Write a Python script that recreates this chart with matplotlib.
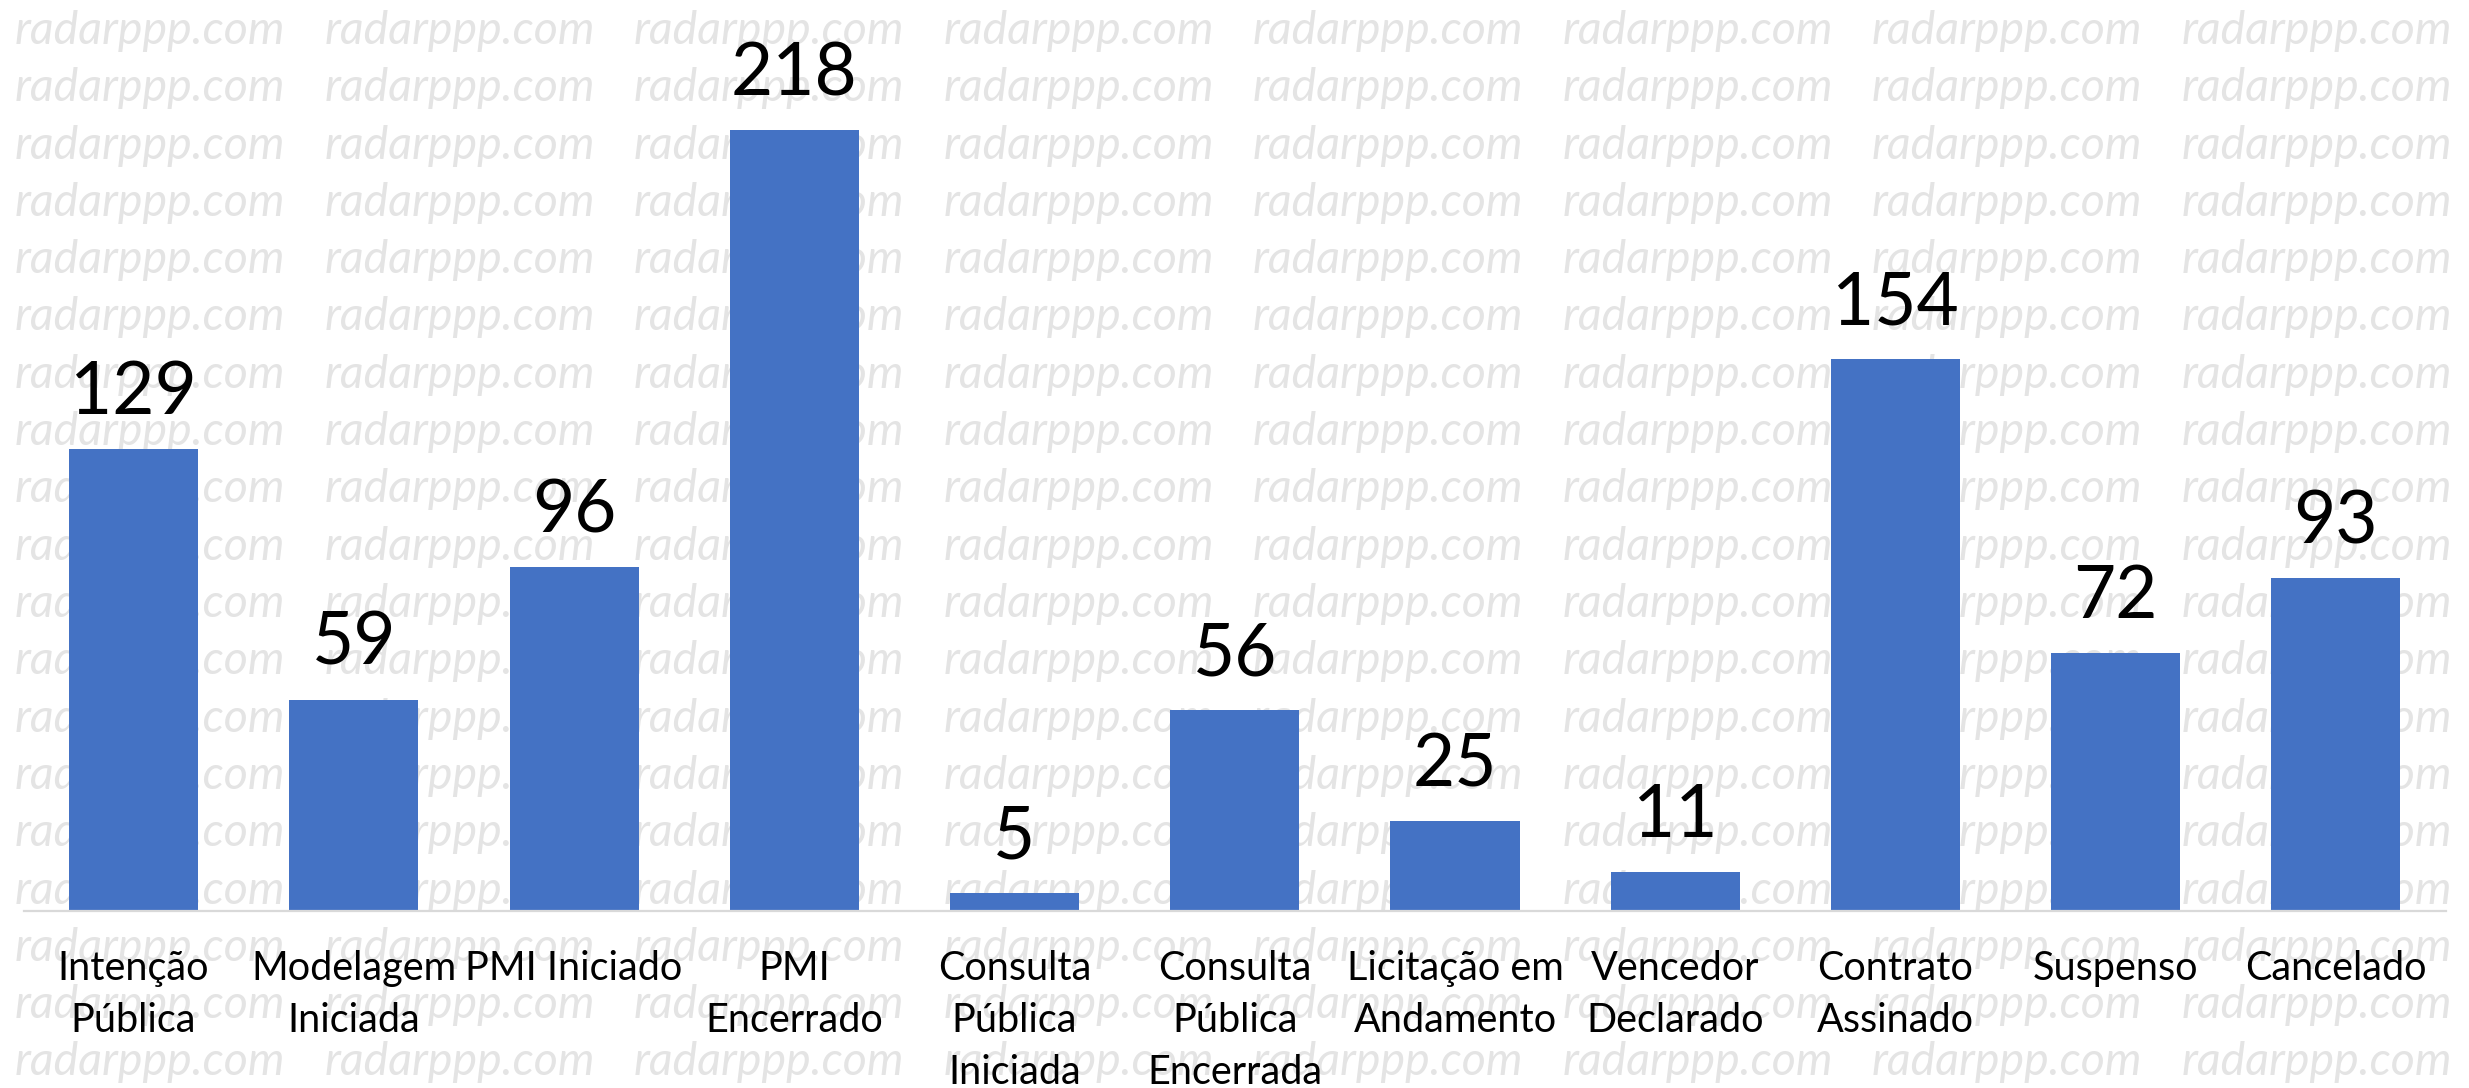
import matplotlib
matplotlib.use("Agg")
import matplotlib.pyplot as plt

categories = ["Intenção\nPública", "Modelagem\nIniciada", "PMI Iniciado", "PMI\nEncerrado",
              "Consulta\nPública\nIniciada", "Consulta\nPública\nEncerrada",
              "Licitação em\nAndamento", "Vencedor\nDeclarado", "Contrato\nAssinado",
              "Suspenso", "Cancelado"]
values = [129, 59, 96, 218, 5, 56, 25, 11, 154, 72, 93]
watermark = "radarppp.com"

W, H = 2469, 1088
DPI = 100
plt.rcParams['font.family'] = ['Lato', 'DejaVu Sans']

fig = plt.figure(figsize=(W / DPI, H / DPI), dpi=DPI)
fig.patch.set_facecolor("white")

left_px, right_px = 23.5, 2446
base_px, top_px = 911, 20
ax = fig.add_axes([left_px / W, (H - base_px) / H, (right_px - left_px) / W, (base_px - top_px) / H])
ax.set_facecolor("none")

px_per_unit = (911 - 130) / 218.0
ax.set_ylim(0, (base_px - top_px) / px_per_unit)
n = len(values)
ax.set_xlim(-0.5, n - 0.5)

x = list(range(n))
ax.bar(x, values, width=0.586, color="#4472C4", zorder=2)
for xi, v in zip(x, values):
    ax.annotate(str(v), (xi, v), xytext=(0, 25), textcoords="offset points",
                ha="center", va="baseline", fontsize=52.5, color="black")

for s in ["top", "right", "left"]:
    ax.spines[s].set_visible(False)
ax.spines["bottom"].set_color("#D9D9D9")
ax.spines["bottom"].set_linewidth(1.6)
ax.set_yticks([])
ax.set_xticks(x)
ax.set_xticklabels(categories, fontsize=28.5, linespacing=1.5, multialignment="center")
ax.tick_params(axis="x", length=0, pad=28)

renderer = fig.canvas.get_renderer()
fs = 30
t = fig.text(0, 0, watermark, fontsize=fs, fontstyle="italic", fontweight="normal")
wpx = t.get_window_extent(renderer).width
t.remove()
fs = fs * 270.0 / wpx
for j in range(19):
    yb = 44 + 57.3 * j
    for k in range(8):
        xl = 15 + 309.5 * k
        fig.text(xl / W, 1 - yb / H, watermark, fontsize=fs, fontstyle="italic",
                 fontweight="normal", color="#E4E4E4", ha="left", va="baseline", zorder=-5)

fig.savefig("out.png", dpi=DPI)
